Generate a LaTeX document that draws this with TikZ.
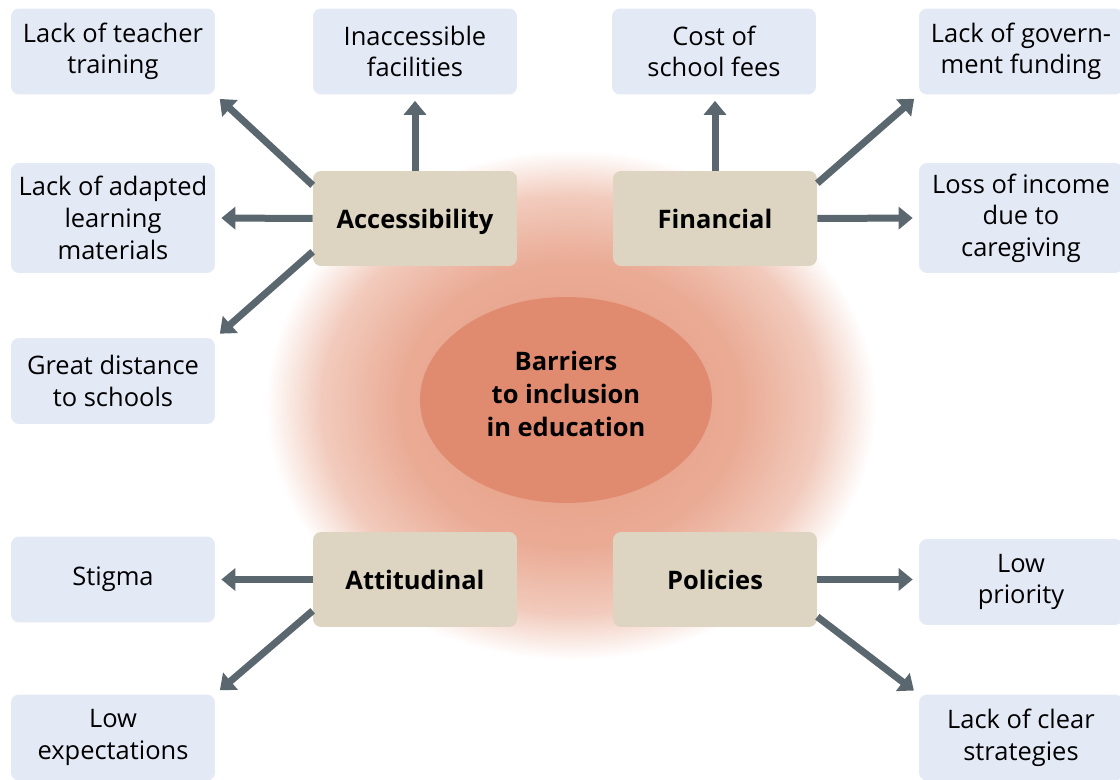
\documentclass[tikz,border=0pt]{standalone}
\usepackage{fontspec}
\setmainfont{Open Sans}
\usetikzlibrary{arrows.meta,shapes.geometric}
\definecolor{leafblue}{HTML}{E4E9F6}
\definecolor{catbeige}{HTML}{DDD5C2}
\definecolor{arrowgray}{HTML}{5B676F}
\definecolor{hubred}{HTML}{E08B70}
\definecolor{glowcore}{HTML}{E59A80}
\definecolor{glowmid}{HTML}{EAAB95}
\definecolor{glowout}{HTML}{F2CBBD}
\pgfdeclareradialshading{barrierglow}{\pgfpoint{0bp}{0bp}}{color(0bp)=(glowcore); color(14bp)=(glowmid); color(20.5bp)=(glowout); color(25bp)=(white); color(50bp)=(white)}
\tikzset{
    leaf/.style={fill=leafblue, rounded corners=0.16cm, minimum width=4.08cm,
        minimum height=1.72cm, align=center, font={\fontsize{14.5}{18}\selectfont}},
    category/.style={fill=catbeige, rounded corners=0.16cm, minimum width=4.08cm,
        minimum height=1.9cm, text height=0.5cm, text depth=0.08cm,
        font={\fontsize{14.5}{18}\selectfont\bfseries}},
    hub/.style={ellipse, fill=hubred, minimum width=5.84cm, minimum height=4.12cm,
        inner sep=0pt, text depth=0.25cm, align=center,
        font={\fontsize{14.5}{18.6}\selectfont\bfseries}},
    link/.style={draw=arrowgray, line width=0.14cm,
        -{Triangle[length=0.28cm,width=0.44cm]}, shorten >=0.12cm}
}
\begin{document}
\begin{tikzpicture}[x=0.02cm, y=-0.02cm]
    \useasboundingbox (0,0) rectangle (1120,780);
    % glow behind the centre
    \shade[shading=barrierglow] (571,405) ellipse [x radius=6.1cm, y radius=5.1cm];
    \node[hub] (hub) at (566,400) {Barriers\\to inclusion\\in education};

    % four groups of barriers
    \node[category] (acc) at (415,218.5) {Accessibility};
    \node[category] (fin) at (715,218.5) {Financial};
    \node[category] (att) at (415,579.5) {Attitudinal};
    \node[category] (pol) at (715,579.5) {Policies};

    % single barriers
    \node[leaf] (teacher) at (113,51.5) {Lack of teacher\\training};
    \node[leaf] (facilities) at (415,51.5) {Inaccessible\\facilities};
    \node[leaf] (fees) at (714,51.5) {Cost of\\school fees};
    \node[leaf] (funding) at (1021,51.5) {Lack of govern-\\ment funding};
    \node[leaf, minimum height=2.2cm] (adapted) at (113,218) {Lack of adapted\\learning\\materials};
    \node[leaf, minimum height=2.2cm] (income) at (1021,218) {Loss of income\\due to\\caregiving};
    \node[leaf] (distance) at (113,381) {Great distance\\to schools};
    \node[leaf] (stigma) at (113,579.5) {Stigma};
    \node[leaf] (priority) at (1021,582) {Low\\priority};
    \node[leaf] (expect) at (113,737.5) {Low\\expectations};
    \node[leaf] (strategies) at (1021,737.5) {Lack of clear\\strategies};

    % arrows
    \draw[link] (acc.162) -- (teacher.south east);
    \draw[link] (acc.north) -- (facilities.south);
    \draw[link] (acc.west) -- (adapted.east);
    \draw[link] (acc.198) -- (distance.north east);
    \draw[link] (fin.north) -- (fin.north |- fees.south);
    \draw[link] (fin.19) -- (funding.south west);
    \draw[link] (fin.east) -- (income.west);
    \draw[link] (att.west) -- (att.west -| stigma.east);
    \draw[link] (att.197) -- (expect.north east);
    \draw[link] (pol.east) -- (pol.east -| priority.west);
    \draw[link] (pol.340) -- (strategies.north west);
\end{tikzpicture}
\end{document}
